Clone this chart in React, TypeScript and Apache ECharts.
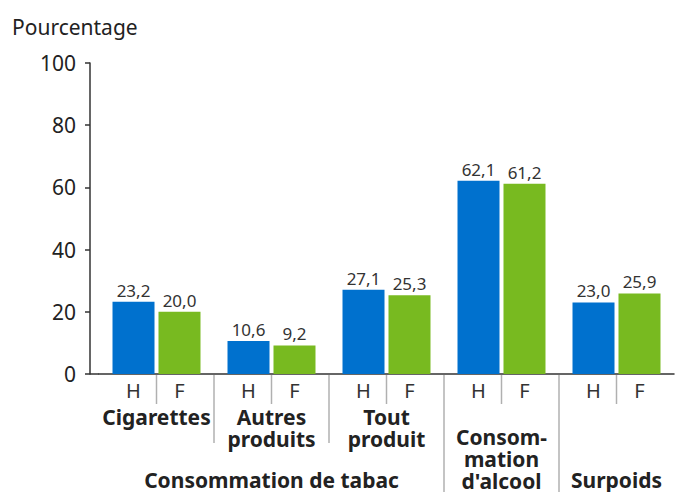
import React, { useEffect, useRef } from "react";
import * as echarts from "echarts";

const categories = ["Cigarettes", "Autres produits", "Tout produit", "Consommation d'alcool", "Surpoids"];
const categoryLines = [["Cigarettes"], ["Autres", "produits"], ["Tout", "produit"], ["Consom-", "mation", "d'alcool"], ["Surpoids"]];
const categoryPad = [0, 0, 0, 20, 64];
const hommes = [23.2, 10.6, 27.1, 62.1, 23.0];
const femmes = [20.0, 9.2, 25.3, 61.2, 25.9];
const seriesNames = ["H", "F"];
const yTicks = { min: 0, max: 100, interval: 20 };
const groupTitle = "Consommation de tabac";
const yTitle = "Pourcentage";

const W = 687;
const H = 492;
const GRID_LEFT = 99;
const GRID_RIGHT = 13;
const GRID_TOP = 63;
const GRID_BOTTOM = 118;
const FONT = "'Noto Sans', sans-serif";

export default function App() {
  const ref = useRef<HTMLDivElement>(null);
  useEffect(() => {
    document.body.style.margin = "0";
    const chart = echarts.init(ref.current!, null, { renderer: "svg" });
    const band = (W - GRID_LEFT - GRID_RIGHT) / categories.length;
    const baseY = H - GRID_BOTTOM;
    const sepColor = "#b0b0b0";
    const graphics: any[] = [];
    graphics.push({
      type: "text",
      x: 12,
      y: 27,
      style: { text: yTitle, font: `21px ${FONT}`, fill: "#222", textVerticalAlign: "middle" },
    });
    graphics.push({
      type: "line",
      shape: { x1: GRID_LEFT - 9, y1: baseY, x2: GRID_LEFT, y2: baseY },
      style: { stroke: "#333", lineWidth: 1.5 },
    });
    for (let i = 0; i < categories.length; i++) {
      const cx = GRID_LEFT + band * (i + 0.5);
      graphics.push({
        type: "line",
        shape: { x1: cx, y1: baseY + 1, x2: cx, y2: baseY + 30 },
        style: { stroke: sepColor, lineWidth: 1.5 },
      });
      if (i > 0) {
        const x = GRID_LEFT + band * i;
        graphics.push({
          type: "line",
          shape: { x1: x, y1: baseY + 1, x2: x, y2: i >= 3 ? H : baseY + 69 },
          style: { stroke: sepColor, lineWidth: 1.5 },
        });
      }
    }
    graphics.push({
      type: "text",
      x: GRID_LEFT + band * 1.5,
      y: 480,
      style: {
        text: groupTitle,
        font: `bold 21px ${FONT}`,
        fill: "#222",
        textAlign: "center",
        textVerticalAlign: "middle",
      },
    });

    const fmt = (p: any) => Number(p.value).toFixed(1).replace(".", ",");
    const barCommon = {
      type: "bar",
      barWidth: 42,
      barGap: "9.5%",
      label: {
        show: true,
        position: "top",
        distance: 3,
        formatter: fmt,
        fontFamily: FONT,
        fontSize: 17,
        color: "#333",
      },
    };

    chart.setOption({
      animation: false,
      grid: { left: GRID_LEFT, right: GRID_RIGHT, top: GRID_TOP, bottom: GRID_BOTTOM },
      xAxis: {
        type: "category",
        data: categories,
        axisLine: { lineStyle: { color: "#333", width: 1.5 } },
        axisTick: { show: false },
        axisLabel: {
          interval: 0,
          margin: 0,
          formatter: (_v: string, i: number) => {
            const lines = ["{h|H}{f|F}"];
            if (categoryPad[i] > 0) lines.push(`{p${categoryPad[i]}| }`);
            for (const l of categoryLines[i]) lines.push(`{c|${l}}`);
            return lines.join("\n");
          },
          rich: {
            h: { width: 46, align: "center", fontSize: 20, lineHeight: 32, color: "#333", fontFamily: FONT },
            f: { width: 46, align: "center", fontSize: 20, lineHeight: 32, color: "#333", fontFamily: FONT },
            c: { fontSize: 21, fontWeight: "bold", lineHeight: 22, color: "#222", fontFamily: FONT },
            p20: { lineHeight: 20, fontSize: 10 },
            p64: { lineHeight: 63, fontSize: 10 },
          },
        },
      },
      yAxis: {
        type: "value",
        min: yTicks.min,
        max: yTicks.max,
        interval: yTicks.interval,
        offset: 9,
        axisLine: { show: true, lineStyle: { color: "#333", width: 1.5 } },
        axisTick: { show: true, length: 5, lineStyle: { color: "#333", width: 1.5 } },
        splitLine: { show: false },
        axisLabel: { fontSize: 21, color: "#222", fontFamily: FONT, margin: 14 },
      },
      series: [
        { ...barCommon, name: seriesNames[0], data: hommes, itemStyle: { color: "#0071CE" } },
        { ...barCommon, name: seriesNames[1], data: femmes, itemStyle: { color: "#78BA20" } },
      ],
      graphic: graphics,
    });
    return () => chart.dispose();
  }, []);
  return <div ref={ref} style={{ width: W, height: H }} />;
}
